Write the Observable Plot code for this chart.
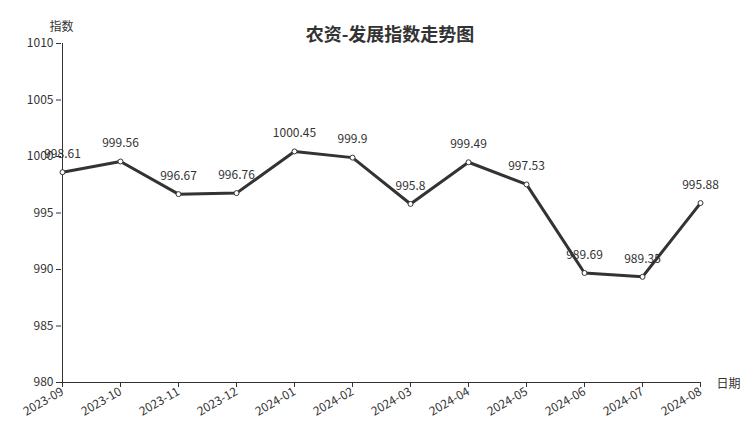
<!DOCTYPE html>
<html><head><meta charset="utf-8">
<script src="https://cdn.jsdelivr.net/npm/d3@7"></script>
<script src="https://cdn.jsdelivr.net/npm/@observablehq/plot@0.6"></script>
<style>
body{margin:0;background:#fff;font-family:"Noto Sans CJK SC","Noto Sans",sans-serif;}
#wrap{position:relative;width:752px;height:427px;}
#title{position:absolute;left:0;width:780px;top:20px;text-align:center;font-size:18px;font-weight:bold;color:#333;}
</style></head>
<body><div id="wrap"><div id="title">农资-发展指数走势图</div></div>
<script>
const months = ["2023-09","2023-10","2023-11","2023-12","2024-01","2024-02","2024-03","2024-04","2024-05","2024-06","2024-07","2024-08"];
const values = [998.61, 999.56, 996.67, 996.76, 1000.45, 999.9, 995.8, 999.49, 997.53, 989.69, 989.35, 995.88];
const yTicks = [980, 985, 990, 995, 1000, 1005, 1010];
const data = months.map((m, i) => ({month: m, value: values[i]}));
const font = "Noto Sans CJK SC";
const chart = Plot.plot({
  width: 752, height: 427,
  marginTop: 43, marginBottom: 45, marginLeft: 61, marginRight: 51,
  style: {fontFamily: font, fontSize: "12px", color: "#333", background: "#fff"},
  x: {type: "point", domain: months, padding: 0, label: null},
  y: {domain: [980, 1010], label: null},
  marks: [
    Plot.axisY({ticks: yTicks, tickFormat: d => String(d), tickSize: 5, tickPadding: 3, fontSize: 12, label: null}),
    Plot.axisX({tickSize: 5, tickRotate: -30, tickPadding: 3, fontSize: 12, label: null}),
    Plot.ruleY([980], {stroke: "#333", strokeWidth: 1}),
    Plot.ruleX([months[0]], {stroke: "#333", strokeWidth: 1}),
    Plot.line(data, {x: "month", y: "value", stroke: "#333", strokeWidth: 3}),
    Plot.dot(data, {x: "month", y: "value", r: 2.5, fill: "#fff", stroke: "#333", strokeWidth: 1}),
    Plot.text(data, {x: "month", y: "value", text: d => String(d.value), dy: -18, fontSize: 12, fill: "#333"}),
    Plot.text(["指数"], {frameAnchor: "top-left", dx: 0, dy: -21, textAnchor: "middle", fontSize: 12, fill: "#333"}),
    Plot.text(["日期"], {frameAnchor: "bottom-right", dx: 39, dy: 5, fontSize: 12, fill: "#333"})
  ]
});
document.getElementById("wrap").appendChild(chart);
</script></body></html>
